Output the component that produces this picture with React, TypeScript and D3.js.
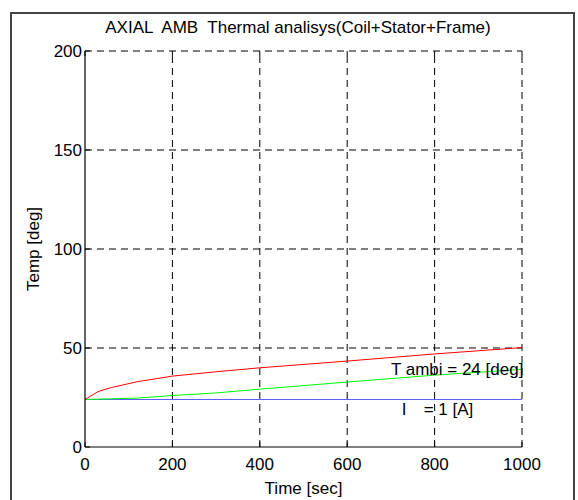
import React from "react";
import * as d3 from "d3";

const titleText = "AXIAL  AMB  Thermal analisys(Coil+Stator+Frame)";
const xLabel = "Time [sec]";
const yLabel = "Temp [deg]";
const xTicks = [0, 200, 400, 600, 800, 1000];
const yTicks = [0, 50, 100, 150, 200];

const coilTime = [0, 30, 60, 120, 200, 300, 400, 600, 800, 1000];
const coilTemp = [24, 28, 30, 33, 35.8, 38, 40, 43.4, 47, 50.2];
const statorTime = [0, 120, 200, 300, 400, 600, 800, 1000];
const statorTemp = [24, 24.7, 26, 27.3, 29.2, 32.8, 36.3, 39.2];
const ambientTime = [0, 1000];
const ambientTemp = [24, 24];

const annotAmbient = { t: 700, v: 39.2, text: "T ambi = 24 [deg]" };
const annotCurrentI = { t: 725, v: 19.2, text: "I" };
const annotCurrentVal = { t: 775, v: 19.2, text: "= 1 [A]" };

const W = 578;
const H = 500;
const FONT = "'Liberation Sans', Arial, Helvetica, sans-serif";

export default function App() {
  const x = d3.scaleLinear().domain([0, 1000]).range([85, 522]);
  const y = d3.scaleLinear().domain([0, 200]).range([447, 51]);
  const line = d3
    .line<[number, number]>()
    .x((d) => x(d[0]))
    .y((d) => y(d[1]));

  const red = line(coilTime.map((t, i) => [t, coilTemp[i]]));
  const green = line(statorTime.map((t, i) => [t, statorTemp[i]]));
  const blue = line(ambientTime.map((t, i) => [t, ambientTemp[i]]));

  const fs = 17;
  const dash = "7,5";

  return (
    <svg
      width={W}
      height={H}
      style={{ position: "absolute", left: 0, top: 0, background: "#fff" }}
      fontFamily={FONT}
    >
      <rect x={0} y={0} width={W} height={H} fill="#fff" />
      <rect x={11} y={13} width={563} height={500} fill="none" stroke="#444" strokeWidth={2} />

      {/* grid */}
      {xTicks.filter((t) => t > 0).map((t) => (
        <line key={"gx" + t} x1={x(t)} x2={x(t)} y1={y(0)} y2={y(200)} stroke="#000" strokeWidth={1} strokeDasharray={dash} />
      ))}
      {yTicks.filter((t) => t > 0).map((t) => (
        <line key={"gy" + t} x1={x(0)} x2={x(1000)} y1={y(t)} y2={y(t)} stroke="#000" strokeWidth={1} strokeDasharray={dash} />
      ))}

      {/* data */}
      <path d={blue || ""} fill="none" stroke="#5a5aff" strokeWidth={1} />
      <path d={green || ""} fill="none" stroke="#00ff00" strokeWidth={1} />
      <path d={red || ""} fill="none" stroke="#ff0000" strokeWidth={1} />

      {/* axes */}
      <line x1={x(0)} x2={x(0)} y1={y(0)} y2={y(200)} stroke="#000" strokeWidth={1.2} />
      <line x1={x(0)} x2={x(1000)} y1={y(0)} y2={y(0)} stroke="#000" strokeWidth={1.2} />
      {yTicks.map((t) => (
        <g key={"yt" + t}>
          <line x1={x(0)} x2={x(0) + 5} y1={y(t)} y2={y(t)} stroke="#000" />
          <text x={x(0) - 3} y={y(t)} dy="0.35em" textAnchor="end" fontSize={fs}>
            {t}
          </text>
        </g>
      ))}
      {xTicks.map((t) => (
        <g key={"xt" + t}>
          <line x1={x(t)} x2={x(t)} y1={y(0)} y2={y(0) - 5} stroke="#000" />
          <line x1={x(t)} x2={x(t)} y1={y(200)} y2={y(200) + 5} stroke="#000" />
          <text x={x(t)} y={y(0) + 17} dy="0.35em" textAnchor="middle" fontSize={fs}>
            {t}
          </text>
        </g>
      ))}

      {/* annotations */}
      <text x={x(annotAmbient.t)} y={y(annotAmbient.v)} dy="0.35em" fontSize={fs}>
        {annotAmbient.text}
      </text>
      <text x={x(annotCurrentI.t)} y={y(annotCurrentI.v)} dy="0.35em" fontSize={fs}>
        {annotCurrentI.text}
      </text>
      <text x={x(annotCurrentVal.t)} y={y(annotCurrentVal.v)} dy="0.35em" fontSize={fs}>
        {annotCurrentVal.text}
      </text>

      {/* labels */}
      <text x={298} y={33} textAnchor="middle" fontSize={fs} style={{ whiteSpace: "pre" }}>
        {titleText}
      </text>
      <text x={(x(0) + x(1000)) / 2} y={488} dy="0.35em" textAnchor="middle" fontSize={fs}>
        {xLabel}
      </text>
      <text
        transform={`translate(33,${(y(0) + y(200)) / 2}) rotate(-90)`}
        dy="0.35em"
        textAnchor="middle"
        fontSize={fs}
      >
        {yLabel}
      </text>
    </svg>
  );
}
